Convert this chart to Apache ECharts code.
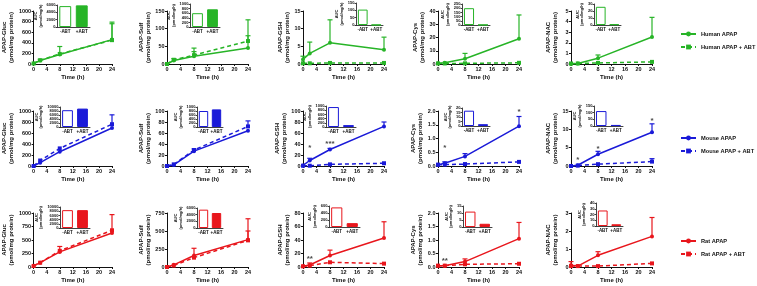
<!DOCTYPE html>
<html>
<head>
<meta charset="utf-8">
<script src="https://cdn.jsdelivr.net/npm/echarts@6/dist/echarts.min.js"></script>
<style>
html, body { margin: 0; padding: 0; background: #fff; }
#chart { width: 757px; height: 286px; }
</style>
</head>
<body>
<div id="chart"></div>
<script>
// time points (h) and metabolite panels
const times = [0, 2, 8, 24]
const metabolites = ['Gluc', 'Sulf', 'GSH', 'Cys', 'NAC']
const aucGroups = ['-ABT', '+ABT']
const species = ['Human', 'Mouse', 'Rat']

// rows: Gluc, Sulf, GSH, Cys, NAC ; columns: times
const humanMean = [[10, 65, 180, 460], [0, 10, 22, 45], [1.3, 3, 6, 4], [0.5, 1, 4, 19], [0, 0.05, 0.55, 2.55]]
const humanUpper = [[null, 90, 330, 790], [null, 15, 35, 80], [2.2, 6.2, 12.5, 7.6], [null, null, 8, 37], [null, null, 0.85, 4.4]]
const humanAbtMean = [[10, 70, 190, 450], [0, 12, 25, 65], [0.2, 0.2, 0.3, 0.3], [0.4, 0.4, 0.5, 0.9], [0.05, 0.05, 0.1, 0.2]]
const humanAbtUpper = [[null, null, null, 760], [null, null, 45, 125], [null, null, null, null], [null, null, null, null], [null, null, null, null]]
const humanAuc = [[5700, 5900], [600, 770], [105, 1], [200, 2], [26, 1]]

const mouseMean = [[0, 60, 260, 690], [0, 2, 27, 64], [1, 10, 30, 72], [0.05, 0.1, 0.35, 1.45], [0, 0.2, 3.2, 9.2]]
const mouseUpper = [[null, null, null, null], [null, null, null, null], [null, 14, 32, 80], [null, 0.15, 0.45, 1.8], [null, null, 4, 11.5]]
const mouseAbtMean = [[0, 100, 320, 760], [0, 3, 29, 72], [0.5, 0.5, 3, 5], [0.05, 0.05, 0.07, 0.15], [0, 0.1, 0.5, 1.2]]
const mouseAbtUpper = [[null, null, null, 930], [null, null, 31, 82], [null, null, null, null], [null, null, null, null], [null, null, null, 2]]
const mouseAuc = [[8400, 9200], [800, 880], [950, 90], [17, 2], [112, 8]]

const ratMean = [[20, 80, 280, 630], [0, 30, 160, 380], [1, 3, 17, 43], [0.05, 0.05, 0.2, 1.05], [0.1, 0.05, 0.65, 1.7]]
const ratUpper = [[null, null, 380, 970], [null, null, 260, 670], [null, 6, 25, 67], [null, null, 0.3, 1.65], [0.3, null, 0.85, 2.75]]
const ratAbtMean = [[20, 80, 300, 680], [0, 20, 130, 370], [1, 2, 7, 5], [0.05, 0.05, 0.1, 0.12], [0.05, 0.05, 0.05, 0.2]]
const ratAbtUpper = [[null, null, null, null], [null, null, null, 500], [null, null, null, null], [null, null, null, null], [null, null, null, null]]
const ratAuc = [[8500, 8500], [5500, 4500], [560, 110], [11, 2.3], [27, 3]]

// axis ranges (max, step) per panel
const mainMax = [[1000, 150, 15, 40, 5], [1000, 100, 100, 2, 15], [1000, 750, 80, 2, 3]]
const mainStep = [[200, 50, 5, 10, 1], [200, 20, 20, 0.5, 5], [250, 250, 20, 0.5, 1]]
const aucMax = [[6000, 1000, 150, 250, 30], [10000, 1000, 1000, 20, 150], [10000, 6000, 600, 15, 40]]
const aucStep = [[2000, 200, 50, 50, 10], [2000, 200, 200, 5, 50], [2000, 2000, 200, 5, 10]]

// significance marks: [panel, time, y, text]
const mouseStars = [[2, 2, 33, '*'], [2, 8, 40, '***'], [3, 2, 0.66, '*'], [3, 24, 1.96, '*'], [4, 2, 1.7, '*'], [4, 8, 4.6, '*'], [4, 24, 12.3, '*']]
const ratStars = [[2, 2, 12, '**'], [3, 2, 0.24, '**']]
const humanStars = []

const rows = [
    { mean: humanMean, upper: humanUpper, abt: humanAbtMean, abtUp: humanAbtUpper, auc: humanAuc, stars: humanStars },
    { mean: mouseMean, upper: mouseUpper, abt: mouseAbtMean, abtUp: mouseAbtUpper, auc: mouseAuc, stars: mouseStars },
    { mean: ratMean, upper: ratUpper, abt: ratAbtMean, abtUp: ratAbtUpper, auc: ratAuc, stars: ratStars }
]

// layout
const colors = ['#27b427', '#1a1ad8', '#e8161c']
const colLeft = [31, 167, 303, 438, 571]
const rowTop = [11, 111, 213]
const rowHeight = [53, 55, 54]
const insetBox = [
    [[57, 5, 33, 22], [190, 4, 30, 23], [356, 3, 27, 22], [462, 4, 28, 21], [594, 4, 27, 21]],
    [[60, 107, 30, 20], [197, 107, 26, 20], [326, 106, 30, 21], [462, 108, 28, 18], [594, 106, 29, 20]],
    [[60, 207, 30, 21], [197, 208, 26, 20], [329, 206, 31, 21], [463, 206, 29, 21], [596, 203, 27, 23]]
]
const legendTop = [26, 130, 233]

const ink = '#111'
const font = 'Liberation Sans, Arial, sans-serif'

function renderErr (params, api) {
    const up = api.value(2)
    const p0 = api.coord([api.value(0), api.value(1)])
    const p1 = api.coord([api.value(0), up])
    const st = { stroke: api.visual('color'), lineWidth: 1.2 }
    return {
        type: 'group',
        children: [
            { type: 'line', shape: { x1: p0[0], y1: p0[1], x2: p1[0], y2: p1[1] }, style: st },
            { type: 'line', shape: { x1: p1[0] - 2.5, y1: p1[1], x2: p1[0] + 2.5, y2: p1[1] }, style: st }
        ]
    }
}

function errData (mean, upper) {
    const out = []
    times.forEach((t, i) => {
        if (upper[i] != null) out.push([t, mean[i], upper[i]])
    })
    return out
}

const grid = []
const xAxis = []
const yAxis = []
const series = []

rows.forEach((row, r) => {
    const c = colors[r]
    const n1 = species[r] + ' APAP'
    const n2 = species[r] + ' APAP + ABT'
    metabolites.forEach((m, k) => {
        // main plot
        const gi = grid.length
        const step = mainStep[r][k]
        grid.push({ left: colLeft[k], top: rowTop[r], width: 81, height: rowHeight[r] })
        xAxis.push({
            gridIndex: gi,
            type: 'value',
            min: 0,
            max: 24,
            interval: 4,
            name: 'Time (h)',
            nameLocation: 'middle',
            nameGap: 10,
            nameTextStyle: { fontSize: 6, fontWeight: 'bold', color: ink },
            axisLine: { lineStyle: { color: ink, width: 1 } },
            axisTick: { length: 2, lineStyle: { color: ink } },
            axisLabel: { fontSize: 5.5, fontWeight: 'bold', color: ink, margin: 2.5 },
            splitLine: { show: false }
        })
        yAxis.push({
            gridIndex: gi,
            type: 'value',
            min: 0,
            max: mainMax[r][k],
            interval: step,
            name: 'APAP-' + m + '\n(pmol/mg protein)',
            nameLocation: 'middle',
            nameGap: 12,
            nameTextStyle: { fontSize: 6, fontWeight: 'bold', color: ink, lineHeight: 7 },
            axisLine: { show: true, lineStyle: { color: ink, width: 1 } },
            axisTick: { show: true, length: 2, lineStyle: { color: ink } },
            axisLabel: {
                fontSize: 5.5,
                fontWeight: 'bold',
                color: ink,
                margin: 2.5,
                formatter: v => step < 1 ? v.toFixed(1) : String(v)
            },
            splitLine: { show: false }
        })
        series.push({
            type: 'custom',
            name: 'err1',
            xAxisIndex: gi,
            yAxisIndex: gi,
            renderItem: renderErr,
            itemStyle: { color: c },
            data: errData(row.mean[k], row.upper[k]),
            z: 2
        })
        series.push({
            type: 'custom',
            name: 'err2',
            xAxisIndex: gi,
            yAxisIndex: gi,
            renderItem: renderErr,
            itemStyle: { color: c },
            data: errData(row.abt[k], row.abtUp[k]),
            z: 2
        })
        series.push({
            type: 'line',
            name: n1,
            xAxisIndex: gi,
            yAxisIndex: gi,
            data: times.map((t, i) => [t, row.mean[k][i]]),
            symbol: 'circle',
            symbolSize: 4,
            lineStyle: { width: 1.5, color: c },
            itemStyle: { color: c },
            z: 3
        })
        series.push({
            type: 'line',
            name: n2,
            xAxisIndex: gi,
            yAxisIndex: gi,
            data: times.map((t, i) => [t, row.abt[k][i]]),
            symbol: 'rect',
            symbolSize: 4,
            lineStyle: { width: 1.5, color: c, type: [4, 3] },
            itemStyle: { color: c },
            z: 3
        })
        const st = row.stars.filter(s => s[0] === k)
        if (st.length) {
            series.push({
                type: 'scatter',
                name: 'sig',
                xAxisIndex: gi,
                yAxisIndex: gi,
                symbolSize: 0,
                data: st.map(s => [s[1], s[2], s[3]]),
                label: {
                    show: true,
                    position: 'inside',
                    formatter: p => p.value[2],
                    fontSize: 8,
                    fontWeight: 'bold',
                    color: ink
                },
                z: 4
            })
        }

        // AUC inset
        const b = insetBox[r][k]
        const ii = grid.length
        const maxLen = String(aucMax[r][k]).length
        grid.push({ left: b[0], top: b[1], width: b[2], height: b[3] })
        xAxis.push({
            gridIndex: ii,
            type: 'category',
            data: aucGroups,
            axisLine: { lineStyle: { color: ink, width: 0.8 } },
            axisTick: { show: false },
            axisLabel: { fontSize: 4.5, fontWeight: 'bold', color: ink, margin: 2, interval: 0 }
        })
        yAxis.push({
            gridIndex: ii,
            type: 'value',
            min: 0,
            max: aucMax[r][k],
            interval: aucStep[r][k],
            name: 'AUC\n(pmol/mg/h)',
            nameLocation: 'middle',
            nameGap: maxLen * 2.3 + 3,
            nameTextStyle: { fontSize: 4, fontWeight: 'bold', color: ink, lineHeight: 4.5 },
            axisLine: { show: true, lineStyle: { color: ink, width: 0.8 } },
            axisTick: { show: true, length: 1.5, lineStyle: { color: ink, width: 0.8 } },
            axisLabel: { fontSize: 4, fontWeight: 'bold', color: ink, margin: 1.5, formatter: v => String(v) },
            splitLine: { show: false }
        })
        series.push({
            type: 'bar',
            name: 'auc',
            xAxisIndex: ii,
            yAxisIndex: ii,
            barWidth: '72%',
            data: [
                { value: row.auc[k][0], itemStyle: { color: '#fff', borderColor: c, borderWidth: 1 } },
                { value: row.auc[k][1], itemStyle: { color: c, borderColor: c, borderWidth: 1 } }
            ]
        })
    })
})

const legend = species.map((s, r) => ({
    data: [s + ' APAP', s + ' APAP + ABT'],
    orient: 'vertical',
    left: 675,
    top: legendTop[r],
    itemWidth: 15,
    itemHeight: 6,
    itemGap: 7,
    selectedMode: false,
    textStyle: { fontSize: 5.7, fontWeight: 'bold', color: ink }
}))

const option = {
    animation: false,
    backgroundColor: '#fff',
    textStyle: { fontFamily: font },
    legend: legend,
    grid: grid,
    xAxis: xAxis,
    yAxis: yAxis,
    series: series
}

const chart = echarts.init(document.getElementById('chart'))
chart.setOption(option)
</script>
</body>
</html>
